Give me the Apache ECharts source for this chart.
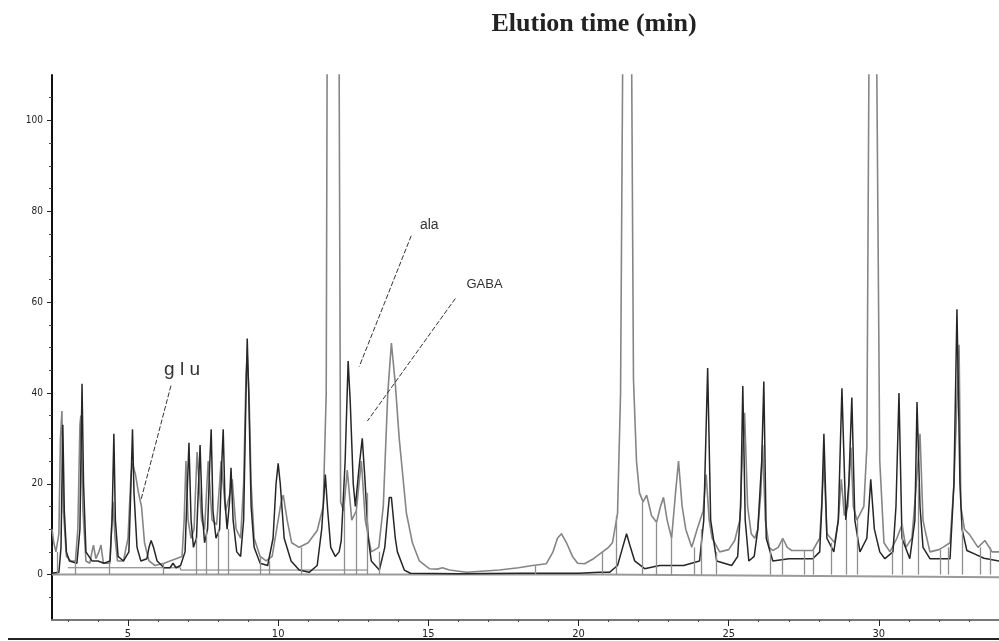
<!DOCTYPE html>
<html>
<head>
<meta charset="utf-8">
<script src="https://cdn.jsdelivr.net/npm/echarts@6/dist/echarts.min.js"></script>
<style>
html,body{margin:0;padding:0;background:#fff;}
#chart{width:999px;height:641px;}
</style>
</head>
<body>
<div id="chart"></div>
<script>
// x range in minutes, y range in detector units
var xMin = 2.47, xMax = 34;
var yMin = -10, yMax = 110;
var xMajor = [5, 10, 15, 20, 25, 30];
var xMinor = [3,4,6,7,8,9,11,12,13,14,16,17,18,19,21,22,23,24,26,27,28,29,31,32,33,34];
var yMajor = [0, 20, 40, 60, 80, 100];
var yMinor = [-5,5,10,15,25,30,35,45,50,55,65,70,75,85,90,95,105];

// dark trace (time, signal)
var darkTrace = [
 [2.47,0.3],[2.70,0.5],[2.77,6],[2.83,33],[2.88,14],[2.95,5],[3.05,3],[3.30,2.5],[3.40,10],[3.47,42],[3.52,20],[3.60,5],
 [3.80,3],[4.00,3],[4.20,2.5],[4.40,3],[4.47,12],[4.53,31],[4.58,12],[4.67,4],[4.85,3],[5.03,5],[5.10,20],[5.15,32],
 [5.20,18],[5.30,6],[5.43,3],[5.63,3.5],[5.70,6],[5.77,7.5],[5.85,6],[5.97,3],[6.20,1.5],[6.40,1.5],[6.50,2.5],[6.60,1.5],
 [6.75,2],[6.90,5],[6.97,18],[7.03,29],[7.10,12],[7.18,6],[7.28,8],[7.35,20],[7.40,28.5],[7.47,14],[7.55,7],[7.65,10],
 [7.72,24],[7.77,32],[7.83,14],[7.93,8],[8.05,10],[8.12,24],[8.17,32],[8.23,16],[8.30,10],[8.38,16],[8.43,23.5],[8.50,12],
 [8.62,5],[8.75,4],[8.85,12],[8.93,40],[8.97,52],[9.02,40],[9.10,15],[9.20,6],[9.40,2.5],[9.65,2],[9.83,8],[9.93,20],
 [10.0,24.5],[10.07,20],[10.20,8],[10.43,3],[10.70,1],[11.03,0.5],[11.30,2],[11.45,10],[11.57,22],[11.65,14],[11.75,6],
 [11.90,4],[12.03,5],[12.10,7.5],[12.23,25],[12.33,47],[12.40,38],[12.50,20],[12.57,15],[12.70,24],[12.80,30],[12.88,22],
 [13.00,8],[13.10,3],[13.37,1],[13.55,6],[13.70,17],[13.77,17],[13.90,8],[13.97,5],[14.20,1],[14.40,0.3],[16.0,0.2],
 [18.0,0.3],[20.0,0.3],[20.70,0.5],[21.03,0.5],[21.30,2],[21.47,6],[21.60,9],[21.73,6],[21.87,3],[22.20,1.3],[22.70,2],
 [23.50,2],[24.03,3],[24.17,12],[24.30,45.5],[24.40,12],[24.60,3],[25.10,2],[25.30,4],[25.40,15],[25.47,41.5],[25.55,12],
 [25.67,3],[25.85,4],[25.97,10],[26.10,25],[26.17,42.5],[26.25,8],[26.47,3],[27.0,3.5],[27.8,3.5],[28.03,5],[28.10,15],
 [28.17,31],[28.27,8],[28.50,5],[28.65,12],[28.77,41],[28.90,12],[29.00,20],[29.10,39],[29.20,12],[29.37,5],[29.60,8],
 [29.73,21],[29.85,10],[30.03,5],[30.20,3.5],[30.47,5],[30.57,15],[30.67,40],[30.77,8],[31.03,3.5],[31.20,12],[31.27,38],
 [31.37,15],[31.47,6],[31.70,3.5],[32.37,3.5],[32.50,20],[32.60,58.4],[32.70,20],[32.77,10],[32.93,5.3],[33.20,4.5],
 [33.50,3.6],[34.0,3]
];

// gray trace (time, signal)
var grayTrace = [
 [2.47,10],[2.53,7],[2.60,5],[2.70,9],[2.75,30],[2.80,36],[2.85,14],[2.95,4],[3.10,3],[3.25,3],[3.33,10],[3.40,33],
 [3.43,35],[3.50,14],[3.60,3],[3.73,2.5],[3.80,5],[3.85,6.5],[3.93,3.5],[4.03,5],[4.10,6.5],[4.18,2.5],[4.40,2.5],
 [4.45,10],[4.50,16],[4.57,8],[4.65,3],[4.85,3],[5.00,8],[5.10,22],[5.15,24.5],[5.25,22],[5.35,18],[5.45,15],[5.55,7],
 [5.70,3],[5.90,2],[6.20,2.5],[6.40,3],[6.60,3.5],[6.80,4],[6.87,12],[6.93,25],[7.00,12],[7.10,8],[7.20,10],[7.30,27],
 [7.35,27],[7.45,12],[7.55,10],[7.63,20],[7.67,25],[7.80,12],[7.95,11],[8.05,20],[8.10,25],[8.25,14],[8.40,18],[8.47,21],
 [8.60,10],[8.75,8],[8.85,20],[8.93,44],[8.97,48],[9.03,40],[9.10,20],[9.20,8],[9.40,4],[9.60,3],[9.80,4],[9.95,10],
 [10.10,16],[10.17,17.5],[10.30,12],[10.45,7],[10.70,6],[11.00,7],[11.30,9.7],[11.50,15],[11.60,40],[11.63,112],
 [11.83,250],[12.03,112],[12.08,16],[12.18,14],[12.30,23],[12.45,12],[12.60,14],[12.77,25],[12.90,12],[13.10,5],
 [13.35,6],[13.50,15],[13.65,40],[13.77,51],[13.90,42],[14.03,30],[14.27,13.5],[14.47,7],[14.70,3],[15.03,1.3],
 [15.30,1.2],[15.47,1.5],[15.70,1],[16.27,0.5],[17.37,1],[18.00,1.5],[18.47,2],[18.93,2.4],[19.15,5],[19.30,8],
 [19.43,9],[19.60,7],[19.80,4],[19.97,2.5],[20.20,2.4],[20.50,3.5],[20.70,4.5],[21.00,6],[21.13,7],[21.30,13.5],
 [21.40,40],[21.47,112],[21.62,250],[21.77,112],[21.83,43],[21.93,25],[22.03,18],[22.15,16],[22.27,17.5],[22.43,13],
 [22.60,11.5],[22.73,15],[22.83,17],[22.95,12],[23.10,8],[23.23,18],[23.33,25],[23.45,15],[23.57,10],[23.77,6],
 [23.95,10],[24.05,12],[24.15,14],[24.25,22],[24.35,12],[24.45,8],[24.70,5],[25.00,5.5],[25.20,7.5],[25.37,12],
 [25.45,25],[25.53,35.6],[25.63,15],[25.75,9],[25.87,8],[25.97,10],[26.07,18],[26.13,28.5],[26.22,12],[26.35,6],
 [26.47,5.3],[26.65,6],[26.80,8],[26.95,6],[27.10,5.3],[27.80,5.3],[28.03,8],[28.12,18],[28.17,25],[28.27,9],[28.53,7],
 [28.65,12],[28.75,21],[28.85,13],[28.97,15],[29.07,28],[29.15,15],[29.27,12],[29.50,15],[29.60,28],[29.67,112],
 [29.80,250],[29.93,112],[30.03,25],[30.17,7],[30.37,5],[30.60,8],[30.77,11],[30.90,6],[31.10,8],[31.25,20],[31.37,31],
 [31.47,12],[31.53,10],[31.70,5],[32.00,5.5],[32.13,6],[32.37,7],[32.50,20],[32.67,50.6],[32.73,15],[32.85,10],
 [33.03,8.7],[33.30,6],[33.53,7.5],[33.77,5],[34.0,5]
];

// integration baselines
var baseLine = [[2.47,0],[20.7,0],[20.7,-0.4],[34,-0.6]];
var baseLine2 = [[3.00,1.5],[6.75,1.5],[6.75,1],[12.97,1]];

// peak-split drop lines: time, top value
var dropTimes = [2.63,3.23,4.37,6.17,7.27,7.60,8.00,8.33,9.40,9.70,10.77,12.20,12.60,12.97,13.37,
	18.57,20.80,21.27,22.13,22.60,23.10,23.87,24.10,24.60,26.40,26.77,27.50,27.83,28.43,28.93,29.27,
	30.43,30.77,31.30,32.03,32.30,32.77,33.37,33.70];
var dropTops = [5,3,2.5,2.5,8,10,10,10,4,3,6,15,14,18,5,
	2,5,13,16,11.5,8,6,10,5,5.3,8,5.3,5.3,7,12,12,
	5,11,20,5.5,6,12,6,6];

// peak labels: name, text position, pointer start, pointer end
var peakNames = ['ala', 'GABA', 'g l u'];
var peakTextAt = [[15.03,77], [16.87,63.9], [6.80,45.1]];
var pointerFrom = [[14.43,74.6], [15.90,60.8], [6.43,41.6]];
var pointerTo = [[12.70,45.8], [12.97,33.8], [5.43,16.4]];
var peakFontSize = [14, 13, 19];

var dom = document.getElementById('chart');
var myChart = echarts.init(dom);

var pointerLines = [];
var labelPoints = [];
for (var i = 0; i < peakNames.length; i++) {
	pointerLines.push([{coord: pointerFrom[i]}, {coord: pointerTo[i]}]);
	labelPoints.push({
		name: peakNames[i],
		coord: peakTextAt[i],
		label: {fontSize: peakFontSize[i]}
	});
}
var dropLines = [];
for (var k = 0; k < dropTimes.length; k++) {
	dropLines.push([{coord: [dropTimes[k], 0]}, {coord: [dropTimes[k], dropTops[k]]}]);
}

var option = {
	animation: false,
	backgroundColor: '#fff',
	grid: {left: 52, right: 0, top: 75, bottom: 21, outerBoundsMode: 'none'},
	graphic: [
		{
			type: 'text', x: 594, y: 24, silent: true,
			style: {
				text: 'Elution time (min)', fill: '#222',
				font: 'bold 26px "Liberation Serif", "Times New Roman", serif',
				align: 'center', verticalAlign: 'middle'
			}
		},
		{
			type: 'line', silent: true,
			shape: {x1: 8, y1: 639, x2: 999, y2: 639},
			style: {stroke: '#222', lineWidth: 2}
		}
	],
	xAxis: [
		{
			type: 'value', min: xMin, max: xMax,
			axisLine: {onZero: false, lineStyle: {color: '#777', width: 2}},
			axisTick: {customValues: xMajor, length: 6, lineStyle: {color: '#222', width: 1}},
			axisLabel: {customValues: xMajor, margin: 9, fontSize: 11, color: '#222',
				fontFamily: '"Liberation Sans Narrow", "DejaVu Sans Condensed", sans-serif'},
			splitLine: {show: false}
		},
		{
			type: 'value', min: xMin, max: xMax, position: 'bottom',
			axisLine: {show: false, onZero: false},
			axisTick: {customValues: xMinor, length: 2, lineStyle: {color: '#444'}},
			axisLabel: {show: false},
			splitLine: {show: false}
		}
	],
	yAxis: [
		{
			type: 'value', min: yMin, max: yMax,
			axisLine: {show: true, onZero: false, lineStyle: {color: '#111', width: 2}},
			axisTick: {customValues: yMajor, length: 5, lineStyle: {color: '#222'}},
			axisLabel: {customValues: yMajor, margin: 9, fontSize: 10, color: '#222',
				fontFamily: '"Liberation Sans Narrow", "DejaVu Sans Condensed", sans-serif'},
			splitLine: {show: false}
		},
		{
			type: 'value', min: yMin, max: yMax, position: 'left',
			axisLine: {show: false, onZero: false},
			axisTick: {customValues: yMinor, length: 3, lineStyle: {color: '#444'}},
			axisLabel: {show: false},
			splitLine: {show: false}
		}
	],
	series: [
		{
			name: 'baseline', type: 'line', data: baseLine,
			showSymbol: false, silent: true,
			lineStyle: {color: '#9a9a9a', width: 2},
			markLine: {
				silent: true, symbol: ['none', 'none'],
				label: {show: false},
				lineStyle: {color: '#8f8f8f', width: 1.3, type: 'solid'},
				data: dropLines
			}
		},
		{
			name: 'baseline2', type: 'line', data: baseLine2,
			showSymbol: false, silent: true,
			lineStyle: {color: '#777', width: 1}
		},
		{
			name: 'gray', type: 'line', data: grayTrace,
			showSymbol: false, silent: true,
			lineStyle: {color: '#858585', width: 1.6}
		},
		{
			name: 'dark', type: 'line', data: darkTrace,
			showSymbol: false, silent: true,
			lineStyle: {color: '#262626', width: 1.5},
			markLine: {
				silent: true, symbol: ['none', 'none'],
				label: {show: false},
				lineStyle: {color: '#333', width: 1, type: [5, 2]},
				data: pointerLines
			},
			markPoint: {
				silent: true, symbol: 'circle', symbolSize: 0,
				label: {show: true, position: 'inside', formatter: '{b}', color: '#333',
					fontFamily: '"Liberation Sans", Arial, sans-serif'},
				data: labelPoints
			}
		}
	]
};
if (option && typeof option === "object") {
	myChart.setOption(option, true);
}
</script>
</body>
</html>
